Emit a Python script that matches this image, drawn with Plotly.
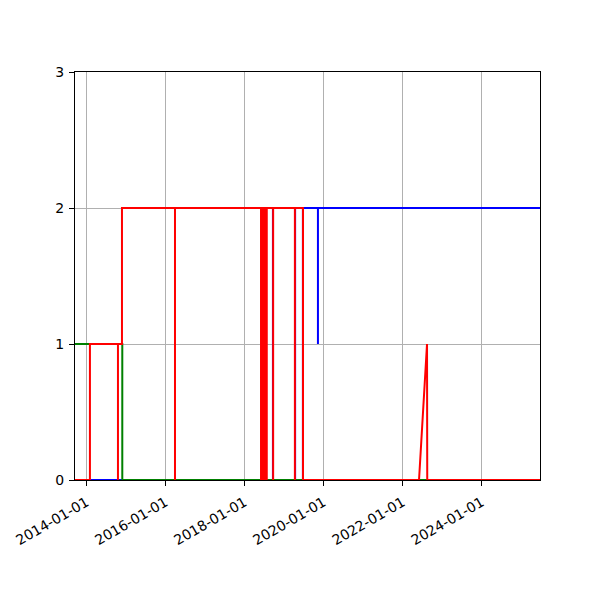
import plotly.graph_objects as go

# Data
red_dates = ["2013-09-17", "2014-02-02", "2014-02-02", "2014-10-19", "2014-10-19", "2014-10-19",
             "2014-11-25", "2014-11-25", "2016-03-29", "2016-03-29", "2016-03-29",
             "2018-06-02", "2018-06-02", "2018-06-02", "2018-06-12", "2018-06-12", "2018-06-12",
             "2018-06-22", "2018-06-22", "2018-06-22", "2018-07-02", "2018-07-02", "2018-07-02",
             "2018-07-13", "2018-07-13", "2018-07-13", "2018-07-25", "2018-07-25", "2018-07-25",
             "2018-09-22", "2018-09-22", "2018-09-22", "2019-04-11", "2019-04-11", "2019-04-11",
             "2019-06-25", "2019-06-25", "2022-06-01", "2022-08-14", "2022-08-16", "2025-06-23"]
red_values = [0, 0, 1, 1, 0, 1,
              1, 2, 2, 0, 2,
              2, 0, 2, 2, 0, 2,
              2, 0, 2, 2, 0, 2,
              2, 0, 2, 2, 0, 2,
              2, 0, 2, 2, 0, 2,
              2, 0, 0, 1, 0, 0]

blue_dates = ["2013-09-17", "2018-09-20", "2018-09-20", "2018-09-20", "2019-04-13", "2019-04-13",
              "2019-04-13", "2019-06-24", "2019-06-24", "2019-11-10", "2019-11-10", "2019-11-10",
              "2025-06-23"]
blue_values = [0, 0, 2, 0, 0, 2, 0, 0, 2, 2, 1, 2, 2]

green_dates = ["2013-09-17", "2014-11-28", "2014-11-28", "2025-06-23"]
green_values = [1, 1, 0, 0]

x_range = ["2013-09-17", "2025-06-23"]
y_ticks = [0, 1, 2, 3]

fig = go.Figure()
fig.add_trace(go.Scatter(x=blue_dates, y=blue_values, mode="lines",
                         line=dict(color="#0000ff", width=2), showlegend=False))
fig.add_trace(go.Scatter(x=green_dates, y=green_values, mode="lines",
                         line=dict(color="#008000", width=2), showlegend=False))
fig.add_trace(go.Scatter(x=red_dates, y=red_values, mode="lines",
                         line=dict(color="#ff0000", width=2), showlegend=False))

axis_common = dict(showline=True, linecolor="black", linewidth=1, mirror=True,
                   showgrid=True, gridcolor="#b0b0b0", gridwidth=1,
                   ticks="outside", ticklen=5, tickcolor="black", zeroline=False,
                   tickfont=dict(family="DejaVu Sans", size=14, color="black"))

fig.update_layout(
    width=600, height=600,
    margin=dict(l=67, r=68, t=64, b=128, autoexpand=False),
    paper_bgcolor="white", plot_bgcolor="white",
    xaxis=dict(type="date", range=x_range, tick0="2014-01-01", dtick="M24",
               tickformat="%Y-%m-%d", tickangle=-30, ticklabelstandoff=3, **axis_common),
    yaxis=dict(range=[0, 3], tickvals=y_ticks, ticklabelstandoff=2, **axis_common),
)

fig.write_html("out.html")
